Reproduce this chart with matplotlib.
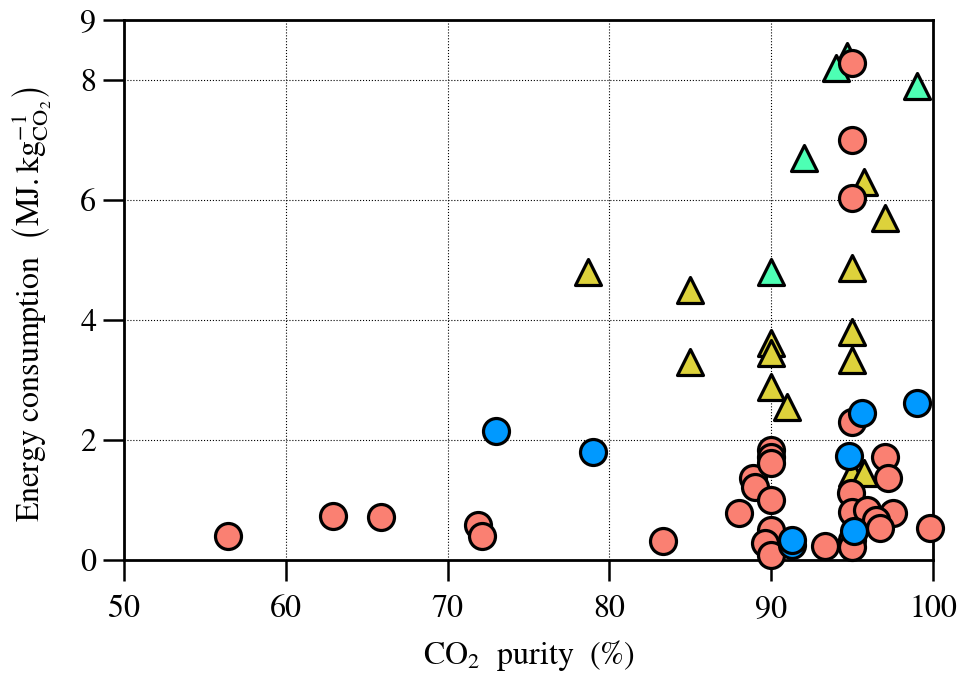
import matplotlib.pyplot as plt

plt.rcParams['font.family'] = ['STIXGeneral', 'Liberation Serif', 'DejaVu Serif']
plt.rcParams['mathtext.fontset'] = 'stix'

# triangles, high-energy group (green)
green_x = [94.7, 94.0, 99.0, 92.0, 90.0]
green_y = [8.4, 8.2, 7.9, 6.7, 4.8]

# triangles, mid group (yellow)
yellow_x = [95.7, 97.0, 95.0, 78.7, 85.0, 85.0, 90.0, 90.0, 90.0, 91.0,
            95.0, 95.0, 95.0, 95.7]
yellow_y = [6.3, 5.7, 4.87, 4.8, 4.5, 3.3, 3.62, 3.45, 2.88, 2.55,
            3.8, 3.33, 1.45, 1.45]

# circles (salmon)
red_x = [56.4, 62.9, 65.9, 71.9, 72.1, 83.3, 88.0, 88.9, 89.0, 90.0,
         90.0, 90.0, 90.0, 90.0, 89.6, 90.0, 93.3, 95.0, 95.0, 95.0,
         95.0, 97.0, 97.2, 94.9, 95.0, 95.9, 97.5, 96.5, 96.7, 95.0,
         95.0, 99.8]
red_y = [0.41, 0.73, 0.72, 0.58, 0.40, 0.32, 0.78, 1.37, 1.22, 1.83,
         1.72, 1.62, 1.01, 0.50, 0.29, 0.08, 0.23, 8.28, 7.0, 6.03,
         2.3, 1.72, 1.37, 1.12, 0.80, 0.83, 0.78, 0.67, 0.53, 0.33,
         0.22, 0.53]

# circles (blue)
blue_x = [73.0, 79.0, 95.6, 99.0, 94.8, 95.1, 91.3, 91.3]
blue_y = [2.15, 1.8, 2.45, 2.62, 1.73, 0.48, 0.25, 0.33]

fig = plt.figure(figsize=(9.61, 6.75), dpi=100)
ax = fig.add_axes([0.129, 0.170, 0.842, 0.800])

kw = dict(s=350, edgecolors='black', linewidths=2.3, clip_on=False)
ax.scatter(yellow_x, yellow_y, marker='^', c='#DDD23B', zorder=3, **kw)
ax.scatter(green_x, green_y, marker='^', c='#4DFFB4', zorder=3, **kw)
ax.scatter(red_x, red_y, marker='o', c='#FA8072', zorder=4, **kw)
ax.scatter(blue_x, blue_y, marker='o', c='#0099FF', zorder=5, **kw)

ax.set_xlim(50, 100)
ax.set_ylim(0, 9)
ax.set_xticks([50, 60, 70, 80, 90, 100])
ax.set_yticks([0, 2, 4, 6, 8, 9])
ax.grid(True, linestyle=':', color='black', linewidth=0.8)
ax.set_axisbelow(True)

for sp in ax.spines.values():
    sp.set_linewidth(2)
ax.tick_params(axis='both', direction='out', length=15, width=1.8,
               labelsize=23, pad=5)
ax.tick_params(axis='x', pad=10)

ax.set_xlabel(r'$\mathrm{CO_2}$  purity  (%)', fontsize=23, labelpad=10)
ax.set_ylabel(r'Energy consumption  $\left(\mathrm{MJ.kg_{CO_2}^{-1}}\right)$',
              fontsize=23)
ax.yaxis.set_label_coords(-0.087, 0.475)

fig.savefig('out.png', dpi=100)
